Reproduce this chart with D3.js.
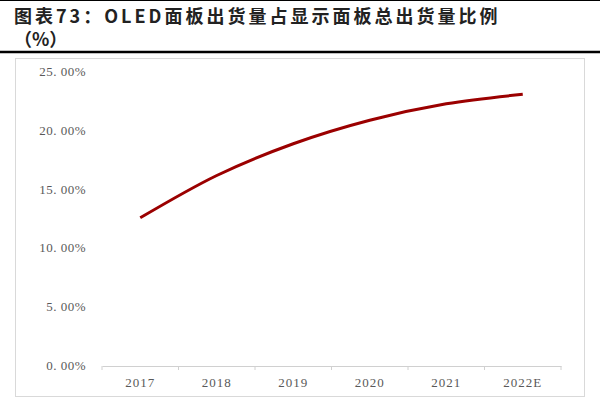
<!DOCTYPE html>
<html><head><meta charset="utf-8">
<script src="https://cdn.jsdelivr.net/npm/d3@7"></script>
<style>body{margin:0;background:#fff}</style>
</head><body>
<svg id="c" width="600" height="400"></svg>
<script>
const categories = ["2017","2018","2019","2020","2021","2022E"];
const values = [12.6, 16.2, 18.9, 20.9, 22.3, 23.1];
const yTicks = [0,5,10,15,20,25];
const yTickLabels = ["0. 00%","5. 00%","10. 00%","15. 00%","20. 00%","25. 00%"];

const svg = d3.select("#c");
svg.append("line").attr("x1",0).attr("x2",600).attr("y1",0.5).attr("y2",0.5).attr("stroke","#000").attr("stroke-width",1);
svg.append("text").attr("x",14).attr("y",23).attr("font-family","Noto Sans CJK SC, Liberation Serif, serif")
  .attr("font-weight","bold").attr("font-size",18).attr("fill","#222").attr("letter-spacing","3px")
  .text("图表73：OLED面板出货量占显示面板总出货量比例");
svg.append("text").attr("x",14).attr("y",46).attr("font-family","Noto Sans CJK SC, serif")
  .attr("font-weight","bold").attr("font-size",18).attr("fill","#222").text("（%）");
svg.append("line").attr("x1",0).attr("x2",600).attr("y1",52).attr("y2",52).attr("stroke","#000").attr("stroke-width",2.5);
svg.append("rect").attr("x",15.5).attr("y",58.5).attr("width",569).attr("height",338).attr("fill","none").attr("stroke","#d9d9d9");

const x = d3.scaleBand().domain(categories).range([102,561]);
const y = d3.scaleLinear().domain([0,25]).range([366,72]);

const xa = svg.append("g").attr("transform","translate(0,366)")
  .call(d3.axisBottom(x).tickSize(0).tickPadding(12));
xa.select(".domain").attr("stroke","#d0d0d0");
xa.selectAll("text").attr("font-family","Liberation Serif, serif").attr("font-size",13).attr("fill","#595959").attr("letter-spacing","1px");
const edges = categories.map(c=>x(c)).concat([x.range()[1]]);
svg.selectAll(".tk").data(edges).enter().append("line").attr("x1",d=>d).attr("x2",d=>d)
  .attr("y1",366).attr("y2",370).attr("stroke","#d0d0d0");

svg.selectAll(".yl").data(yTicks).enter().append("text")
  .attr("x",86).attr("y",d=>y(d)+4).attr("text-anchor","end")
  .attr("font-family","Liberation Serif, serif").attr("font-size",13).attr("fill","#595959")
  .attr("letter-spacing","0.5px").text((d,i)=>yTickLabels[i]);

const line = d3.line().x((d,i)=>x(categories[i])+x.bandwidth()/2).y(d=>y(d)).curve(d3.curveMonotoneX);
svg.append("path").datum(values).attr("d",line).attr("fill","none").attr("stroke","#9b0000").attr("stroke-width",3);
</script>
</body></html>
